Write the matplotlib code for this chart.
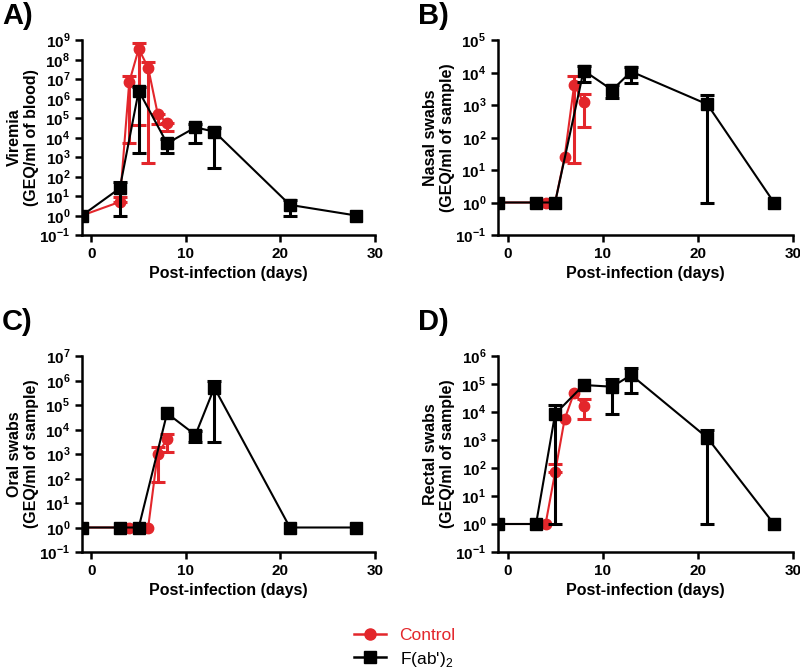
import matplotlib
matplotlib.use("Agg")
import matplotlib.pyplot as plt
from matplotlib.lines import Line2D
import numpy as np

plt.rcParams['font.family'] = ['Liberation Sans', 'DejaVu Sans']
plt.rcParams['mathtext.fontset'] = 'custom'
plt.rcParams['mathtext.rm'] = 'Liberation Sans:bold'
plt.rcParams['mathtext.bf'] = 'Liberation Sans:bold'
plt.rcParams['mathtext.sf'] = 'Liberation Sans'

# ---------------- data ----------------
days_ctrl = [-1, 3, 4, 5, 6, 7, 8]
days_fab = [-1, 3, 5, 8, 11, 13, 21, 28]

# Panel A: viremia
a_ctrl = [1, 5, 7e6, 3.5e8, 3.8e7, 1.7e5, 5.4e4]
a_ctrl_lo = [1, 5, 5e3, 4.4e4, 500, 4.8e4, 2.1e4]
a_ctrl_hi = [1, 8.5, 1.4e7, 7e8, 7.5e7, 1.7e5, 5.4e4]
a_fab = [1, 25, 2.5e6, 5e3, 3.3e4, 2e4, 3.5, 1]
a_fab_lo = [1, 1, 1.7e3, 1.7e3, 5e3, 260, 1, 1]
a_fab_hi = [1, 50, 4e6, 8e3, 5e4, 3e4, 6, 1]

# Panel B: nasal swabs
b_ctrl = [1, 1, 1, 1, 25, 4.1e3, 1.2e3]
b_ctrl_lo = [1, 1, 1, 1, 25, 17, 215]
b_ctrl_hi = [1, 1, 1, 1, 25, 7.7e3, 2.2e3]
b_fab = [1, 1, 1, 1.15e4, 2.9e3, 1.07e4, 1.05e3, 1]
b_fab_lo = [1, 1, 1, 5.2e3, 1.7e3, 4.9e3, 1, 1]
b_fab_hi = [1, 1, 1, 1.6e4, 4e3, 1.5e4, 2.1e3, 1]

# Panel C: oral swabs
c_ctrl = [1, 1, 1, 1, 1, 1e3, 4e3]
c_ctrl_lo = [1, 1, 1, 1, 1, 70, 1.2e3]
c_ctrl_hi = [1, 1, 1, 1, 1, 1.9e3, 6.6e3]
c_fab = [1, 1, 1, 4.6e4, 6e3, 5.1e5, 1, 1]
c_fab_lo = [1, 1, 1, 4.6e4, 3e3, 3.2e3, 1, 1]
c_fab_hi = [1, 1, 1, 4.6e4, 9e3, 1e6, 1, 1]

# Panel D: rectal swabs
d_ctrl = [1, 1, 1, 70, 5.5e3, 4.9e4, 1.7e4]
d_ctrl_lo = [1, 1, 1, 70, 5.5e3, 4.9e4, 5.6e3]
d_ctrl_hi = [1, 1, 1, 140, 5.5e3, 4.9e4, 2.8e4]
d_fab = [1, 1, 8.5e3, 9.2e4, 8e4, 2.1e5, 1.2e3, 1]
d_fab_lo = [1, 1, 1, 9.2e4, 8.5e3, 4.6e4, 1, 1]
d_fab_hi = [1, 1, 1.8e4, 9.2e4, 1.5e5, 3.8e5, 2.3e3, 1]

panel_letters = ["A)", "B)", "C)", "D)"]
ylabels = ["Viremia\n(GEQ/ml of blood)", "Nasal swabs\n(GEQ/ml of sample)",
           "Oral swabs\n(GEQ/ml of sample)", "Rectal swabs\n(GEQ/ml of sample)"]
ytop_exp = [9, 5, 7, 6]
xlabel = "Post-infection (days)"
xticks = [0, 10, 20, 30]
legend_labels = ["Control", r"F(ab')$_{\mathsf{2}}$"]

RED = '#E3262B'
BLACK = '#000000'

# ---------------- figure ----------------
fig = plt.figure(figsize=(8, 6.72), dpi=100)
W, H = 800, 672
boxes = [  # left, right, top, bottom in pixels
    (82, 375, 40, 235),
    (498, 793, 40, 235),
    (82, 375, 356, 552),
    (498, 793, 356, 552),
]
letter_pos = [(2, 16), (418, 16), (2, 322), (418, 322)]
ylabel_x = [23, 439, 23, 439]

datasets = [
    (a_ctrl, a_ctrl_lo, a_ctrl_hi, a_fab, a_fab_lo, a_fab_hi),
    (b_ctrl, b_ctrl_lo, b_ctrl_hi, b_fab, b_fab_lo, b_fab_hi),
    (c_ctrl, c_ctrl_lo, c_ctrl_hi, c_fab, c_fab_lo, c_fab_hi),
    (d_ctrl, d_ctrl_lo, d_ctrl_hi, d_fab, d_fab_lo, d_fab_hi),
]


def draw_series(ax, x, y, lo, hi, color, marker, ms, z):
    x = np.array(x, dtype=float)
    y, lo, hi = [np.array(v, dtype=float) for v in (y, lo, hi)]
    ax.plot(x, y, color=color, marker=marker, markersize=ms, lw=1.5, zorder=z)
    m = (lo < y) | (hi > y)
    if m.any():
        ax.errorbar(x[m], y[m], yerr=[y[m] - lo[m], hi[m] - y[m]], fmt='none',
                    ecolor=color, elinewidth=2.2, capsize=5, capthick=2.2,
                    zorder=z)


for i, (box, data) in enumerate(zip(boxes, datasets)):
    l, r, t, b = box
    ax = fig.add_axes([l / W, 1 - b / H, (r - l) / W, (b - t) / H])
    yc, yclo, ychi, yf, yflo, yfhi = data
    draw_series(ax, days_ctrl, yc, yclo, ychi, RED, 'o', 7.5, 2)
    draw_series(ax, days_fab, yf, yflo, yfhi, BLACK, 's', 8, 3)
    ax.set_yscale('log')
    ax.set_ylim(0.1, 10 ** ytop_exp[i])
    ax.set_xlim(-1, 30)
    ax.set_xticks(xticks)
    ax.set_xticklabels([str(v) for v in xticks])
    exps = list(range(-1, ytop_exp[i] + 1))
    ax.set_yticks([10.0 ** e for e in exps])
    ax.set_yticklabels([f'$10^{{{e}}}$' for e in exps])
    ax.yaxis.set_minor_locator(matplotlib.ticker.NullLocator())
    for s in ['top', 'right']:
        ax.spines[s].set_visible(False)
    for s in ['left', 'bottom']:
        ax.spines[s].set_linewidth(1.8)
    ax.tick_params(width=1.8, length=5, labelsize=11)
    for lab in ax.get_xticklabels():
        lab.set_fontweight('bold')
    ax.set_xlabel(xlabel, fontsize=11.5, fontweight='bold', labelpad=4)
    fig.text(ylabel_x[i] / W, 1 - ((t + b) / 2) / H, ylabels[i], rotation=90,
             ha='center', va='center', fontsize=11.5, fontweight='bold',
             linespacing=1.15)
    lx, ly = letter_pos[i]
    fig.text(lx / W, 1 - ly / H, panel_letters[i], ha='left', va='center',
             fontsize=21, fontweight='bold')

handles = [Line2D([], [], color=RED, marker='o', markersize=8, lw=1.8),
           Line2D([], [], color=BLACK, marker='s', markersize=8, lw=1.8)]
leg = fig.legend(handles, legend_labels, loc='center', bbox_to_anchor=(405 / W, 1 - 648 / H),
                 frameon=False, fontsize=12.5, handlelength=1.8, labelspacing=0.4)
leg.get_texts()[0].set_color(RED)

fig.savefig('out.png', dpi=100)
